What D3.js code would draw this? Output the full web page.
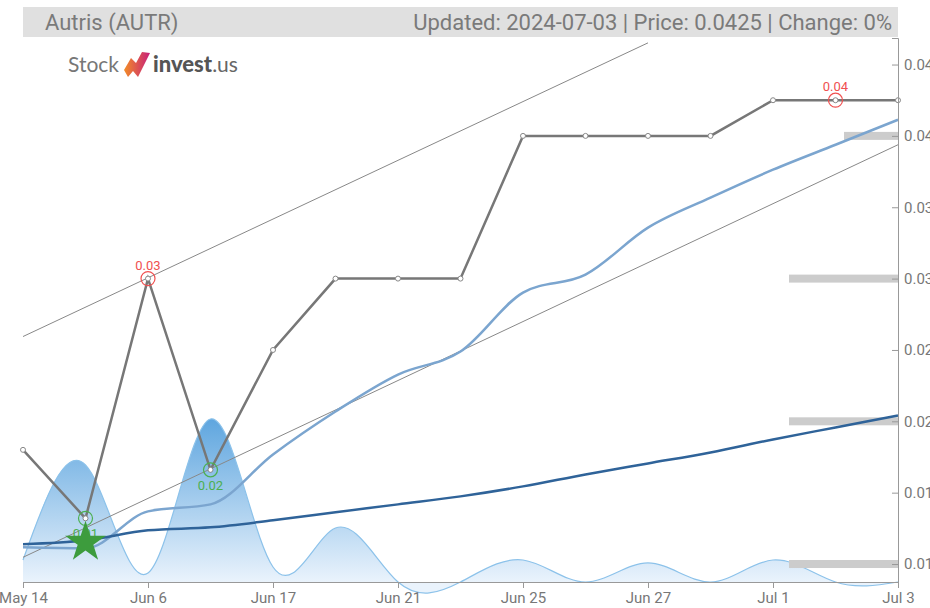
<!DOCTYPE html>
<html><head><meta charset="utf-8">
<script src="https://cdn.jsdelivr.net/npm/d3@7"></script>
<style>body{margin:0;background:#fff}svg{display:block}</style></head>
<body>
<svg id="c" width="930" height="608"></svg>
<script>
const dates = ["May 14","May 31","Jun 6","Jun 12","Jun 17","Jun 18","Jun 21","Jun 24","Jun 25","Jun 26","Jun 27","Jun 28","Jul 1","Jul 2","Jul 3"];
const tickDates = ["May 14","Jun 6","Jun 17","Jun 21","Jun 25","Jun 27","Jul 1","Jul 3"];
const price = [0.018,0.0132,0.03,0.0166,0.025,0.03,0.03,0.03,0.04,0.04,0.04,0.04,0.0425,0.0425,0.0425];
const maShort = [0.01117,0.0111,0.01369,0.01418,0.01768,0.02069,0.02328,0.02489,0.02902,0.03028,0.03357,0.03567,0.03763,0.03938,0.04113];
const maLong = [0.01138,0.01166,0.01236,0.01257,0.01306,0.01362,0.01418,0.01474,0.01544,0.01628,0.01705,0.01782,0.01873,0.01957,0.02041];
const volume = [13500,71800,5500,100000,9200,33100,0,0,13500,0,11700,0,13500,0,0];
const priceTicks = [0.01,0.015,0.02,0.025,0.03,0.035,0.04,0.045];
const trendLower = [["May 14",0.01047],["Jul 3",0.03938]];
const trendUpper = [["May 14",0.02594],["Jun 27",0.04652]];
const levels = [0.01,0.02,0.03,0.04];
const highs = [["Jun 6",0.03],["Jul 2",0.0425]];
const lows = [["May 31",0.0132],["Jun 12",0.0166]];
const buySignal = [["May 31",0.01166]];

const svg = d3.select("#c");
const L = 23, R = 898, T = 38, B = 582;

const x = d3.scalePoint().domain(dates).range([L, R]).padding(0);
const y = d3.scaleLinear().domain([0.00874, 0.04686]).range([B, T]);
const yv = d3.scaleLinear().domain([0, d3.max(volume)]).range([B, 419]);

// header
svg.append("rect").attr("x",23).attr("y",7).attr("width",875).attr("height",30).attr("fill","#e0e0e0");
svg.append("text").attr("x",45).attr("y",30).attr("font-family","Roboto, sans-serif").attr("font-size",22).attr("fill","#7a7a7a").text("Autris (AUTR)");
svg.append("text").attr("x",892).attr("y",30).attr("text-anchor","end").attr("font-family","Roboto, sans-serif").attr("font-size",22).attr("fill","#7a7a7a").text("Updated: 2024-07-03 | Price: 0.0425 | Change: 0%");

// logo
const logo = svg.append("g");
logo.append("text").attr("x",68).attr("y",72).attr("font-family","Lato, sans-serif").attr("font-size",21).attr("fill","#777").text("Stock");
const lg = svg.append("defs").append("linearGradient").attr("id","lgo").attr("x1","0").attr("x2","1").attr("y1","0").attr("y2","0");
lg.append("stop").attr("offset","0").attr("stop-color","#f28c28");
lg.append("stop").attr("offset","1").attr("stop-color","#c8207a");
logo.append("path").attr("d","M124,70 L131,58 L136,63 L142,52 L150,53 L138,77 L133,71 L128,77 Z").attr("fill","url(#lgo)");
const inv = logo.append("text").attr("x",153).attr("y",72).attr("font-family","Lato, sans-serif").attr("font-size",22).attr("font-weight",900).attr("fill","#555").text("invest");
const iw = inv.node().getComputedTextLength();
logo.append("text").attr("x",153+iw).attr("y",72).attr("font-family","Lato, sans-serif").attr("font-size",21).attr("fill","#666").text(".us");

// volume area
const defs = svg.append("defs");
const vg = defs.append("linearGradient").attr("id","vg").attr("gradientUnits","userSpaceOnUse").attr("x1",0).attr("x2",0).attr("y1",419).attr("y2",B);
vg.append("stop").attr("offset","0").attr("stop-color","#5fa6df");
vg.append("stop").attr("offset","1").attr("stop-color","#eaf3fc");
const vArea = d3.area().x((d,i)=>x(dates[i])).y0(B).y1(d=>yv(d)).curve(d3.curveNatural);
const vLine = d3.line().x((d,i)=>x(dates[i])).y(d=>yv(d)).curve(d3.curveNatural);
svg.append("path").attr("d",vArea(volume)).attr("fill","url(#vg)");
svg.append("path").attr("d",vLine(volume)).attr("fill","none").attr("stroke","#8cc2ea").attr("stroke-width",1.2);

// levels
levels.forEach(v=>{
  const w = v===0.04 ? 54 : 109;
  svg.append("rect").attr("x",R-w).attr("y",y(v)-4).attr("width",w).attr("height",8).attr("fill","#cccccc");
});

// trend lines
const tl = d3.line().x(d=>x(d[0])).y(d=>y(d[1]));
[trendLower,trendUpper].forEach(t=>svg.append("path").attr("d",tl(t)).attr("fill","none").attr("stroke","#888").attr("stroke-width",1));

// moving averages
const ml = d3.line().x((d,i)=>x(dates[i])).y(d=>y(d)).curve(d3.curveMonotoneX);
svg.append("path").attr("d",ml(maShort)).attr("fill","none").attr("stroke","#7ba5cf").attr("stroke-width",2.5);
svg.append("path").attr("d",ml(maLong)).attr("fill","none").attr("stroke","#2f6399").attr("stroke-width",2.5);

// price
const pl = d3.line().x((d,i)=>x(dates[i])).y(d=>y(d));
svg.append("path").attr("d",pl(price)).attr("fill","none").attr("stroke","#777").attr("stroke-width",2.5);
svg.selectAll(".pm").data(price).enter().append("circle").attr("cx",(d,i)=>x(dates[i])).attr("cy",d=>y(d)).attr("r",2.5).attr("fill","#fff").attr("stroke","#888").attr("stroke-width",1);

// highs / lows
const fmt = d3.format(".2f");
highs.forEach(h=>{
  svg.append("circle").attr("cx",x(h[0])).attr("cy",y(h[1])).attr("r",7).attr("fill","none").attr("stroke","#f05050").attr("stroke-width",1.2);
  svg.append("text").attr("x",x(h[0])).attr("y",y(h[1])-9).attr("text-anchor","middle").attr("font-family","Roboto, sans-serif").attr("font-size",13).attr("fill","#f05050").text(fmt(h[1]));
});
lows.forEach(h=>{
  svg.append("circle").attr("cx",x(h[0])).attr("cy",y(h[1])).attr("r",7).attr("fill","none").attr("stroke","#4caf50").attr("stroke-width",1.2);
  svg.append("text").attr("x",x(h[0])).attr("y",y(h[1])+20).attr("text-anchor","middle").attr("font-family","Roboto, sans-serif").attr("font-size",13).attr("fill","#4caf50").text(fmt(h[1]));
});
buySignal.forEach(s=>{
  svg.append("path").attr("d",d3.symbol().type(d3.symbolStar).size(520)()).attr("transform",`translate(${x(s[0])},${y(s[1])+2})`).attr("fill","#3d9c3d");
});

// axes
const ax = svg.append("g").attr("transform",`translate(0,${B})`).call(d3.axisBottom(x).tickValues(tickDates).tickSize(6).tickPadding(4));
const ay = svg.append("g").attr("transform",`translate(${R},0)`).call(d3.axisRight(y).tickValues(priceTicks).tickFormat(d3.format(".3f")).tickSize(-6).tickPadding(6));
[ax,ay].forEach(a=>{
  a.selectAll("path,line").attr("stroke","#999");
  a.selectAll("text").attr("fill","#777").attr("font-family","Roboto, sans-serif").attr("font-size",15);
});
</script>
</body></html>
